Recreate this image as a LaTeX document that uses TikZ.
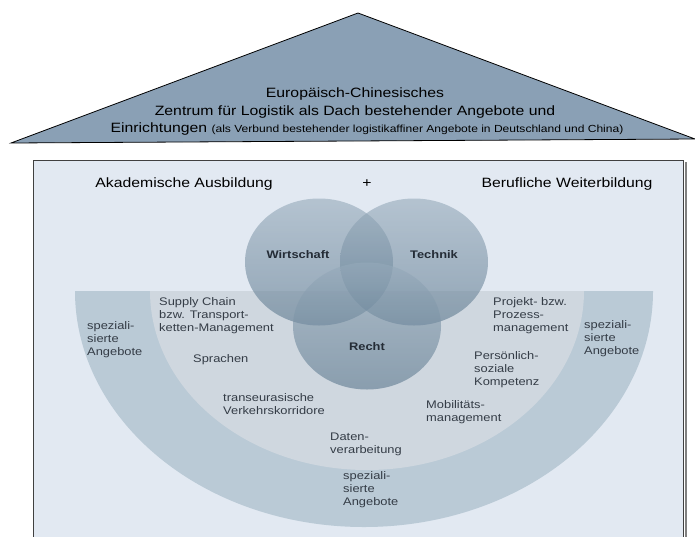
\documentclass[tikz,border=0pt]{standalone}
\usepackage{fontspec}
\setmainfont{Liberation Sans}
\usetikzlibrary{shapes.geometric}

\definecolor{roofblue}{RGB}{138,160,181}
\definecolor{boxbg}{RGB}{226,233,242}
\definecolor{bandout}{RGB}{186,202,214}
\definecolor{bandin}{RGB}{207,215,223}
\definecolor{vennblue}{RGB}{92,120,142}
\definecolor{vennlight}{RGB}{150,170,186}
\definecolor{txtgray}{RGB}{52,60,70}
\definecolor{venntxt}{RGB}{36,44,54}

\begin{document}
\begin{tikzpicture}[x=1pt, y=-1pt,
    txt/.style={inner sep=0pt, xscale=1.17, font=\fontsize{13.5}{17}\selectfont},
    band/.style={inner sep=0pt, xscale=1.17, anchor=west, align=left, text=txtgray, font=\fontsize{11}{13}\selectfont},
    vennlabel/.style={inner sep=0pt, xscale=1.17, text=venntxt, font=\fontsize{11}{13}\selectfont\bfseries},
    venn/.style={ellipse, top color=vennlight, bottom color=vennblue, fill opacity=0.6, minimum width=148pt, minimum height=127pt, inner sep=0pt}]
        \useasboundingbox (0,0) rectangle (695,536);
        \clip (0,0) rectangle (695,536);

        % roof
        \draw[fill=roofblue, line width=0.8pt] (11,143) -- (358,13) -- (695,139) -- cycle;
        \node[txt] (roofa) at (355,94) {Europäisch-Chinesisches};
        \node[txt] (roofb) at (355,112) {Zentrum für Logistik als Dach bestehender Angebote und};
        \node[txt] (roofc) at (367,129) {Einrichtungen {\fontsize{10.3}{12}\selectfont (als Verbund bestehender logistikaffiner Angebote in Deutschland und China)}};

        % house body
        \draw[gray, line width=2pt] (685.5,162) -- (685.5,540);
        \draw[fill=boxbg, draw=black!75, line width=0.8pt] (33,160) rectangle (683,540);
        \node[txt] (akad) at (184,184) {Akademische Ausbildung};
        \node[txt] (plus) at (367,184) {+};
        \node[txt] (beruf) at (567,184) {Berufliche Weiterbildung};

        % half disc
        \begin{scope}
            \clip (0,291) rectangle (695,540);
            \fill[bandout] (364,291) ellipse [x radius=289, y radius=236];
            \fill[bandin] (367,291) ellipse [x radius=217, y radius=179];
        \end{scope}

        % circles
        \node[venn] (wirtc) at (319,262) {};
        \node[venn] (techc) at (414,262) {};
        \node[venn] (rechtc) at (367,326) {};
        \node[vennlabel] (wirt) at (298,255) {Wirtschaft};
        \node[vennlabel] (tech) at (434,255) {Technik};
        \node[vennlabel] (recht) at (367,347) {Recht};

        \node[band] (spezl) at (87,340) {speziali-\\sierte\\Angebote};
        \node[band] (supply) at (159,316) {Supply Chain\\bzw. Transport-\\ketten-Management};
        \node[band] (sprachen) at (193,360) {Sprachen};
        \node[band] (trans) at (223,404) {transeurasische\\Verkehrskorridore};
        \node[band] (daten) at (330,444.5) {Daten-\\verarbeitung};
        \node[band] (spezb) at (343,489.5) {speziali-\\sierte\\Angebote};
        \node[band] (projekt) at (493,316) {Projekt- bzw.\\Prozess-\\management};
        \node[band] (spezr) at (584,339) {speziali-\\sierte\\Angebote};
        \node[band] (persoen) at (474,369.5) {Persönlich-\\soziale\\Kompetenz};
        \node[band] (mobil) at (426,412.5) {Mobilitäts-\\management};
    \end{tikzpicture}
\end{document}
